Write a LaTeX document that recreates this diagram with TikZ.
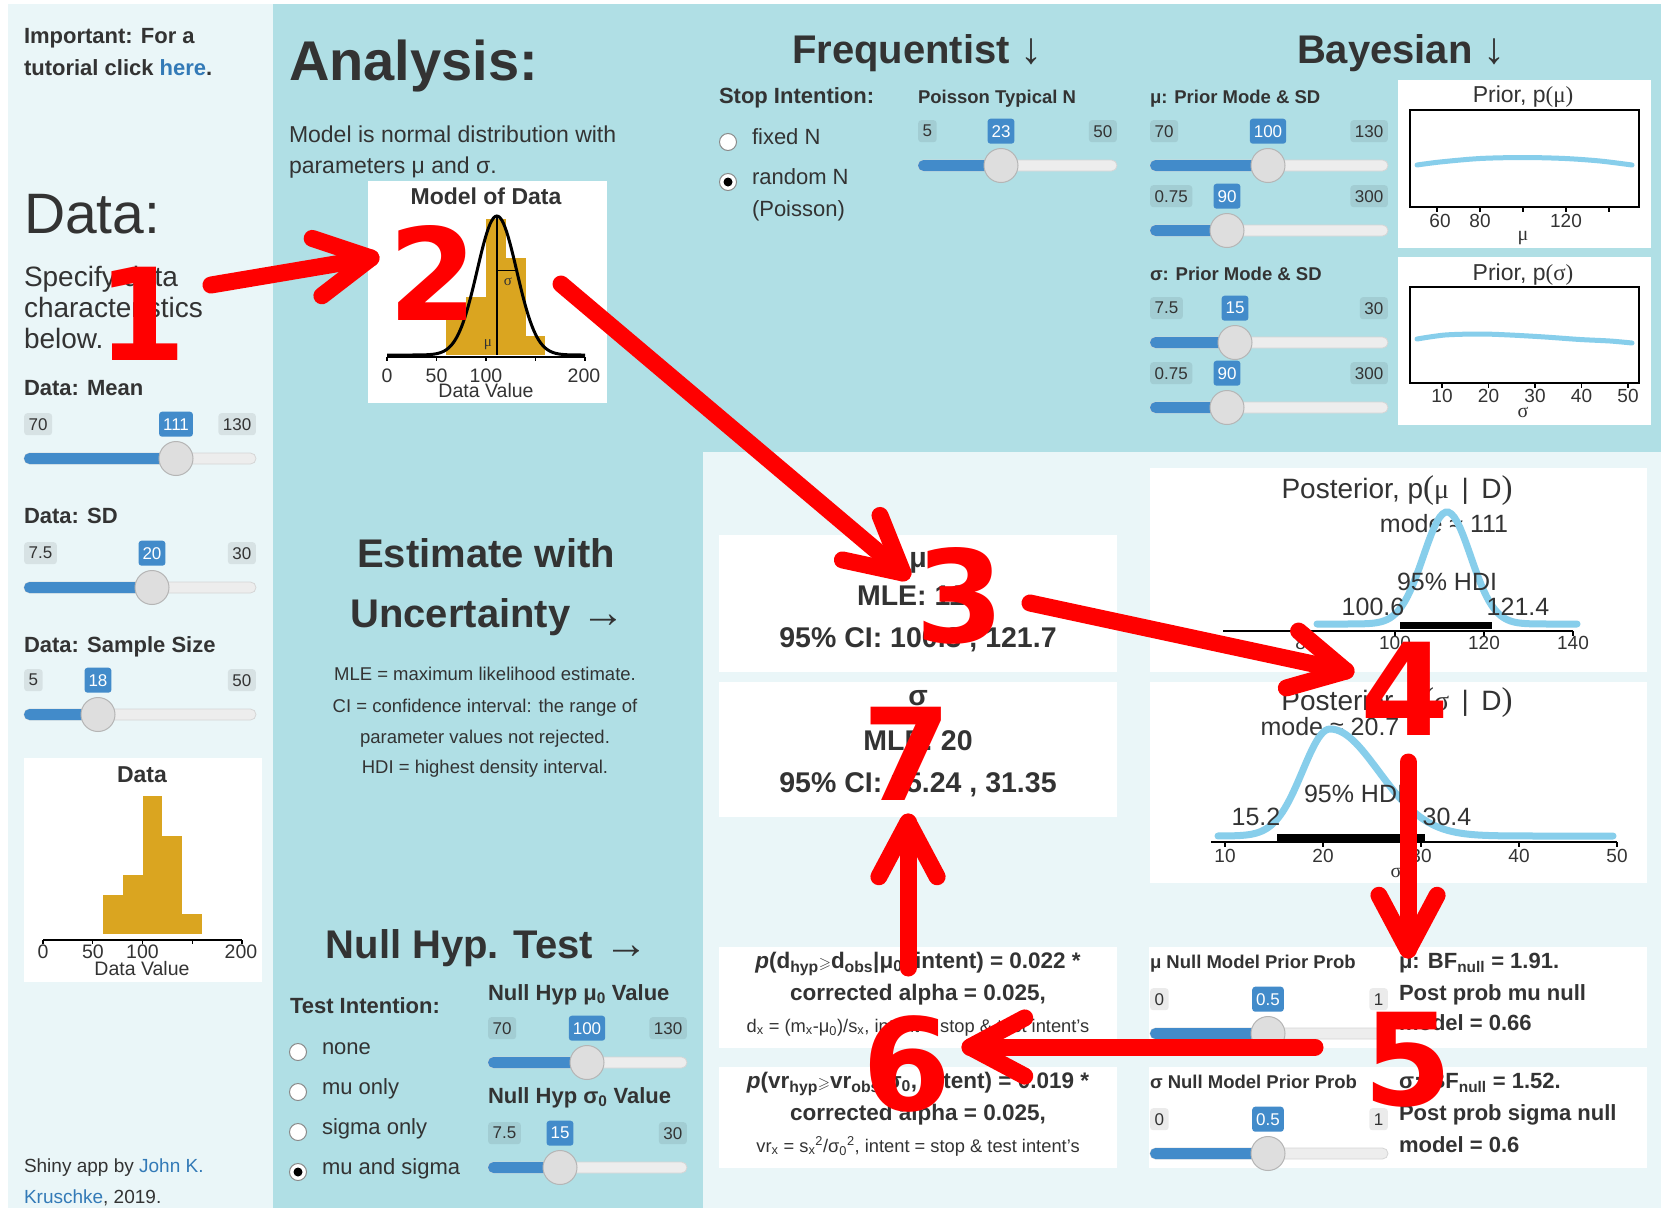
\documentclass[tikz,border=0pt]{standalone}
\usepackage{amssymb}
\usepackage{fontspec}
\setmainfont{Liberation Sans}
\newfontfamily\serifgr{Liberation Serif}
\newfontfamily\numfont{DejaVu Sans}
\usetikzlibrary{calc}

\definecolor{ink}{HTML}{333333}
\definecolor{tealbg}{HTML}{B0DFE5}
\definecolor{lightbg}{HTML}{EAF6F8}
\definecolor{sliderblue}{HTML}{428BCA}
\definecolor{linkblue}{HTML}{337AB7}
\definecolor{histgold}{HTML}{DAA520}
\definecolor{curveblue}{HTML}{87CEEB}
\definecolor{trackc}{HTML}{EDEDED}
\definecolor{trackline}{HTML}{D6D6D6}
\definecolor{knobc}{HTML}{DEDEDE}
\definecolor{knobline}{HTML}{B5B5B5}
\definecolor{radioline}{HTML}{8A8A8A}
\definecolor{markred}{HTML}{FF0000}

\newcommand\fsz[1]{\fontsize{#1}{#1}\selectfont}

\tikzset{
  t/.style={inner sep=0pt, outer sep=0pt, text=ink},
  tw/.style={t, anchor=base west},
  tc/.style={t, anchor=base},
  minlab/.style={fill=black, fill opacity=0.08, text opacity=1, text=ink,
    rounded corners=3pt, inner xsep=4.5pt, inner ysep=0pt, minimum height=22pt,
    font=\fsz{17}},
  vallab/.style={fill=sliderblue, text=white, rounded corners=3pt,
    inner xsep=4pt, inner ysep=0pt, minimum height=25pt, font=\fsz{17}},
  knob/.style={circle, fill=knobc, draw=knobline, line width=1pt,
    minimum size=34pt, inner sep=0pt},
  radio/.style={circle, fill=white, draw=radioline, line width=1pt,
    minimum size=17pt, inner sep=0pt},
  redline/.style={draw=markred, line width=17pt, line cap=round, line join=round},
  num/.style={inner sep=0pt, anchor=base, text=markred, font=\numfont\fsz{128}\bfseries},
  axisln/.style={line width=1.5pt, black},
  tick/.style={line width=1.2pt, black},
}

% slider widget: id, left x, right x, label top y, knob x, min, value, max
\newcommand\uislider[8]{%
  \node[minlab, anchor=north west] (#1-min) at (#2,#4) {#6};
  \node[minlab, anchor=north east] (#1-max) at (#3,#4) {#8};
  \filldraw[fill=trackc, draw=trackline, line width=0.8pt, rounded corners=5.5pt]
     (#2,#4+40) rectangle (#3,#4+51);
  \fill[sliderblue, rounded corners=5.5pt] (#2,#4+40) rectangle (#5,#4+51);
  \node[vallab, anchor=north] (#1-val) at (#5,#4-1.5) {#7};
  \node[knob] (#1-knob) at (#5,#4+45.5) {};
}

% radio button: id, x, y, selected (1) or not (0)
\newcommand\uiradio[4]{%
  \node[radio] (#1) at (#2,#3) {};
  \ifnum#4=1 \fill[black] (#1.center) circle (4.5pt); \fi
}

% red call-out arrow with an open barbed head
\newcommand\redarrow[2]{%
  \draw[redline] (#1) -- (#2);
  \draw[redline] ($(#2)!62pt!28:(#1)$) -- (#2) -- ($(#2)!62pt!-28:(#1)$);
}

% plot-style "p(x | D)" with large serif parentheses
\newcommand\pbig[1]{p{\serifgr\fsz{32}(}\,{\serifgr #1}#1}

\begin{document}
\begin{tikzpicture}[x=1pt,y=-1pt]
\useasboundingbox (0,0) rectangle (1661,1208);

% ---------- page backgrounds ----------
\fill[white] (0,0) rectangle (1661,1208);
\fill[lightbg] (8,4) rectangle (273,1208);
\fill[tealbg] (273,4) rectangle (1661,1208);
\fill[lightbg] (703,452) rectangle (1661,1208);

% white output panels
\foreach \a/\b/\c/\d in {368/181/607/403, 24/758/262/982, 1398/80/1651/248,
    1398/257/1651/425, 719/535/1117/672, 719/682/1117/817, 1150/468/1647/672,
    1150/682/1647/883, 719/947/1117/1048, 719/1067/1117/1168,
    1149/947/1647/1048, 1149/1067/1647/1168}
  \fill[white] (\a,\b) rectangle (\c,\d);

% ---------- sidebar ----------
\node[tw, font=\fsz{22}\bfseries] (imp1) at (24,43) {Important: For a};
\node[tw, font=\fsz{22}\bfseries] (imp2) at (24,75) {tutorial click \textcolor{linkblue}{here}.};
\node[tw, font=\fsz{57}] (datahd) at (24,233) {Data:};
\node[tw, font=\fsz{28}] (spec1) at (24,286) {Specify data};
\node[tw, font=\fsz{28}] (spec2) at (24,317) {characteristics};
\node[tw, font=\fsz{28}] (spec3) at (24,348) {below.};

\node[tw, font=\fsz{22}\bfseries] (lmean) at (24,395) {Data: Mean};
\uislider{smean}{24}{256}{413}{176}{70}{111}{130}
\node[tw, font=\fsz{22}\bfseries] (lsd) at (24,523) {Data: SD};
\uislider{ssd}{24}{256}{542}{152}{7.5}{20}{30}
\node[tw, font=\fsz{22}\bfseries] (lss) at (24,652) {Data: Sample Size};
\uislider{sn}{24}{256}{669}{98}{5}{18}{50}

% data histogram
\node[tc, font=\fsz{23}\bfseries] (dtitle) at (142,782) {Data};
\foreach \l/\h in {60/2,80/3,100/7,120/5,140/1}
  \fill[histgold] ({43+0.995*\l},934) rectangle ({43+0.995*(\l+20)},{934-19.7*\h});
\draw[axisln] (43,940) -- (242,940);
\foreach \v in {0,50,100,150,200} \draw[tick] ({43+0.995*\v},940) -- ++(0,4);
\node[tc, font=\fsz{19.5}] (dx0) at (43,958) {0};
\node[tc, font=\fsz{19.5}] (dx50) at (93,958) {50};
\node[tc, font=\fsz{19.5}] (dx100) at (142.5,958) {100};
\node[tc, font=\fsz{19.5}] (dx200) at (241,958) {200};
\node[tc, font=\fsz{19.5}] (dxlab) at (142,975) {Data Value};

\node[tw, font=\fsz{19}] (credit1) at (24,1172) {Shiny app by \textcolor{linkblue}{John K.}};
\node[tw, font=\fsz{19}] (credit2) at (24,1203) {\textcolor{linkblue}{Kruschke}, 2019.};

% ---------- analysis column ----------
\node[tw, font=\fsz{56}\bfseries] (anhd) at (289,80) {Analysis:};
\node[tw, font=\fsz{23}] (model1) at (289,142) {Model is normal distribution with};
\node[tw, font=\fsz{23}] (model2) at (289,173) {parameters μ and σ.};

% model of data plot
\node[tc, font=\fsz{23}\bfseries] (mtitle) at (486,204) {Model of Data};
\foreach \l/\h in {60/2,80/3,100/7,120/5,140/1}
  \fill[histgold] ({387+0.99*\l},355) rectangle ({387+0.99*(\l+20)},{355-19.4*\h});
\draw[line width=3pt] plot[domain=0:200, samples=120]
  ({387+0.99*\x},{355-139*exp(-0.5*((\x-111)/20)*((\x-111)/20))});
\draw[line width=1.3pt] (497,216) -- (497,355);
\draw[line width=1.3pt] (497,270.7) -- (517,270.7);
\node[t, font=\serifgr\fsz{15}] (msig) at (508,282) {σ};
\node[t, font=\serifgr\fsz{15}] (mmu) at (488,345) {μ};
\draw[axisln] (387,357) -- (585,357);
\foreach \v in {0,50,100,150,200} \draw[tick] ({387+0.99*\v},357) -- ++(0,4);
\node[tc, font=\fsz{19.5}] (mx0) at (387,382) {0};
\node[tc, font=\fsz{19.5}] (mx50) at (436.5,382) {50};
\node[tc, font=\fsz{19.5}] (mx100) at (486,382) {100};
\node[tc, font=\fsz{19.5}] (mx200) at (584,382) {200};
\node[tc, font=\fsz{19.5}] (mxlab) at (486,397) {Data Value};

\node[tc, font=\fsz{40}\bfseries] (est1) at (486,567) {Estimate with};
\node[tc, font=\fsz{40}\bfseries] (est2) at (488,627) {Uncertainty {\mdseries\serifgr\fsz{44}→}};
\node[tc, font=\fsz{18.5}] (gl1) at (485,680) {MLE = maximum likelihood estimate.};
\node[tc, font=\fsz{18.5}] (gl2) at (485,712) {CI = confidence interval: the range of};
\node[tc, font=\fsz{18.5}] (gl3) at (485,743) {parameter values not rejected.};
\node[tc, font=\fsz{18.5}] (gl4) at (485,773) {HDI = highest density interval.};

\node[tc, font=\fsz{40}\bfseries] (nht) at (487,958) {Null Hyp. Test {\mdseries\serifgr\fsz{44}→}};
\node[tw, font=\fsz{22}\bfseries] (tint) at (290,1013) {Test Intention:};
\uiradio{rnone}{298}{1052}{0}
\uiradio{rmu}{298}{1092}{0}
\uiradio{rsig}{298}{1132}{0}
\uiradio{rboth}{298}{1172}{1}
\node[tw, font=\fsz{22}] (tnone) at (322,1054) {none};
\node[tw, font=\fsz{22}] (tmu) at (322,1094) {mu only};
\node[tw, font=\fsz{22}] (tsig) at (322,1134) {sigma only};
\node[tw, font=\fsz{22}] (tboth) at (322,1174) {mu and sigma};
\node[tw, font=\fsz{22}\bfseries] (lmu0) at (488,1000) {Null Hyp μ\textsubscript{0} Value};
\uislider{smu0}{488}{687}{1017}{587}{70}{100}{130}
\node[tw, font=\fsz{22}\bfseries] (lsig0) at (488,1103) {Null Hyp σ\textsubscript{0} Value};
\uislider{ssig0}{488}{687}{1122}{560}{7.5}{15}{30}

% ---------- frequentist column ----------
\node[tw, font=\fsz{40}\bfseries] (freq) at (792,63) {Frequentist {\mdseries\serifgr\fsz{44}↓}};
\node[tw, font=\fsz{22}\bfseries] (stop) at (719,103) {Stop Intention:};
\uiradio{rfixed}{728}{142}{0}
\uiradio{rrand}{728}{182}{1}
\node[tw, font=\fsz{22}] (tfixed) at (752,144) {fixed N};
\node[tw, font=\fsz{22}] (trand) at (752,184) {random N};
\node[tw, font=\fsz{22}] (tpois) at (752,216) {(Poisson)};
\node[tw, font=\fsz{18.5}\bfseries] (lpois) at (918,103) {Poisson Typical N};
\uislider{spois}{918}{1117}{120}{1001}{5}{23}{50}

% estimate boxes
\node[tc, font=\fsz{28.5}\bfseries] (emu) at (918,567) {μ};
\node[tc, font=\fsz{28.5}\bfseries] (emumle) at (918,605) {MLE: 111};
\node[tc, font=\fsz{28.5}\bfseries] (emuci) at (918,647) {95\% CI: 100.3 , 121.7};
\node[tc, font=\fsz{28.5}\bfseries] (esig) at (918,705) {σ};
\node[tc, font=\fsz{28.5}\bfseries] (esigmle) at (918,750) {MLE: 20};
\node[tc, font=\fsz{28.5}\bfseries] (esigci) at (918,792) {95\% CI: 15.24 , 31.35};

% null hypothesis test boxes
\node[tc, font=\fsz{22.5}\bfseries] (p1a) at (918,968)
  {\textit{p}(d\textsubscript{hyp}$\scriptstyle\geqslant$d\textsubscript{obs}|μ\textsubscript{0}, intent) = 0.022 *};
\node[tc, font=\fsz{22.5}\bfseries] (p1b) at (918,1000) {corrected alpha = 0.025,};
\node[tc, font=\fsz{18.3}] (p1c) at (918,1032)
  {d\textsubscript{x} = (m\textsubscript{x}-μ\textsubscript{0})/s\textsubscript{x}, intent = stop \& test intent's};
\node[tc, font=\fsz{22.5}\bfseries] (p2a) at (918,1088)
  {\textit{p}(vr\textsubscript{hyp}$\scriptstyle\geqslant$vr\textsubscript{obs}|σ\textsubscript{0}, intent) = 0.019 *};
\node[tc, font=\fsz{22.5}\bfseries] (p2b) at (918,1120) {corrected alpha = 0.025,};
\node[tc, font=\fsz{18.3}] (p2c) at (918,1152)
  {vr\textsubscript{x} = s\textsubscript{x}\textsuperscript{2}/σ\textsubscript{0}\textsuperscript{2}, intent = stop \& test intent's};

% ---------- bayesian column ----------
\node[tw, font=\fsz{40}\bfseries] (bayes) at (1297,63) {Bayesian {\mdseries\serifgr\fsz{44}↓}};
\node[tw, font=\fsz{18.5}\bfseries] (lpmu) at (1150,103) {μ: Prior Mode \& SD};
\uislider{spmu1}{1150}{1388}{120}{1268}{70}{100}{130}
\uislider{spmu2}{1150}{1388}{185}{1227}{0.75}{90}{300}
\node[tw, font=\fsz{18.5}\bfseries] (lpsig) at (1150,280) {σ: Prior Mode \& SD};
\uislider{spsig1}{1150}{1388}{297}{1235}{7.5}{15}{30}
\uislider{spsig2}{1150}{1388}{362}{1227}{0.75}{90}{300}

% prior on mu
\node[tc, font=\fsz{23}] (pmut) at (1523,102) {Prior, p{\serifgr(μ)}};
\draw[line width=1.5pt] (1410,110) rectangle (1639,207);
\draw[curveblue, line width=5pt, line cap=round] plot[smooth] coordinates
  {(1417,165) (1440,162) (1480,158.5) (1524,157.5) (1565,158.5) (1600,161) (1632,165)};
\foreach \v in {60,80,100,120,140} \draw[tick] ({1437+2.15*(\v-60)},207) -- ++(0,5);
\node[tc, font=\fsz{19}] (pmu60) at (1440,227) {60};
\node[tc, font=\fsz{19}] (pmu80) at (1480,227) {80};
\node[tc, font=\fsz{19}] (pmu120) at (1566,227) {120};
\node[tc, font=\serifgr\fsz{20}] (pmux) at (1523,240) {μ};

% prior on sigma
\node[tc, font=\fsz{23}] (psigt) at (1523,280) {Prior, p{\serifgr(σ)}};
\draw[line width=1.5pt] (1410,287) rectangle (1639,383);
\draw[curveblue, line width=5pt, line cap=round] plot[smooth] coordinates
  {(1417,339) (1445,335) (1480,334) (1510,335) (1545,337) (1580,339.5) (1610,341) (1632,343)};
\foreach \v in {10,20,30,40,50} \draw[tick] ({1442+4.65*(\v-10)},383) -- ++(0,5);
\foreach \v in {10,20,30,40,50}
  \node[tc, font=\fsz{19}] (psx\v) at ({1442+4.65*(\v-10)},402) {\v};
\node[tc, font=\serifgr\fsz{20}] (psigx) at (1523,417) {σ};

% posterior on mu
\node[tc, font=\fsz{28}] (postmut) at (1397,498)
  {Posterior, p{\serifgr\fsz{33}(}{\serifgr μ}\ \,|\ \,D{\serifgr\fsz{33})}};
\node[tc, font=\fsz{25}] (postmumode) at (1444,532) {mode ≈ 111};
\draw[curveblue, line width=7pt, line cap=round] plot[domain=1317:1577, samples=90]
  (\x,{624-112*exp(-0.5*((\x-1447)/23.6)*((\x-1447)/23.6))});
\draw[line width=7pt] (1400,625) -- (1492,625);
\draw[axisln] (1223,631) -- (1573,631);
\foreach \xx in {1306,1395,1484,1573} \draw[tick] (\xx,631) -- ++(0,5);
\node[tc, font=\fsz{19}] (pm80) at (1306,649) {80};
\node[tc, font=\fsz{19}] (pm100) at (1395,649) {100};
\node[tc, font=\fsz{19}] (pm120) at (1484,649) {120};
\node[tc, font=\fsz{19}] (pm140) at (1573,649) {140};
\node[tc, font=\serifgr\fsz{20}] (pmx) at (1398,667) {μ};
\node[tc, font=\fsz{25}] (pmhdi) at (1447,590) {95\% HDI};
\node[tc, font=\fsz{25}] (pmlo) at (1373,615) {100.6};
\node[tc, font=\fsz{25}] (pmhi) at (1518,615) {121.4};

% posterior on sigma
\node[tc, font=\fsz{28}] (postsigt) at (1397,710)
  {Posterior, p{\serifgr\fsz{33}(}{\serifgr σ}\ \,|\ \,D{\serifgr\fsz{33})}};
\node[tc, font=\fsz{25}] (postsigmode) at (1330,735) {mode ≈ 20.7};
\draw[curveblue, line width=7pt, line cap=round] plot[domain=1218:1330, samples=50]
  (\x,{836-107*exp(-0.5*((\x-1330)/27.5)*((\x-1330)/27.5))})
  -- plot[domain=1330:1613, samples=90]
  (\x,{836-107*exp(-0.5*((\x-1330)/48.5)*((\x-1330)/48.5))});
\draw[line width=7pt] (1277,837) -- (1425,837);
\draw[axisln] (1211,842) -- (1617,842);
\foreach \v in {10,20,30,40,50} \draw[tick] ({1225+9.8*(\v-10)},842) -- ++(0,5);
\foreach \v in {10,20,30,40,50}
  \node[tc, font=\fsz{19}] (ppx\v) at ({1225+9.8*(\v-10)},862) {\v};
\node[tc, font=\serifgr\fsz{20}] (ppsx) at (1396,877) {σ};
\node[tc, font=\fsz{25}] (pshdi) at (1354,802) {95\% HDI};
\node[tc, font=\fsz{25}] (pslo) at (1256,825) {15.2};
\node[tc, font=\fsz{25}] (pshi) at (1447,825) {30.4};

% null model priors and Bayes factors
\node[tw, font=\fsz{18.5}\bfseries] (lnm) at (1150,968) {μ Null Model Prior Prob};
\uislider{snm}{1150}{1388}{988}{1268}{0}{0.5}{1}
\node[tw, font=\fsz{18.5}\bfseries] (lns) at (1150,1088) {σ Null Model Prior Prob};
\uislider{sns}{1150}{1388}{1108}{1268}{0}{0.5}{1}
\node[tw, font=\fsz{22}\bfseries] (bf1a) at (1399,968) {μ: BF\textsubscript{null} = 1.91.};
\node[tw, font=\fsz{22}\bfseries] (bf1b) at (1399,1000) {Post prob mu null};
\node[tw, font=\fsz{22}\bfseries] (bf1c) at (1399,1030) {model = 0.66};
\node[tw, font=\fsz{22}\bfseries] (bf2a) at (1399,1088) {σ: BF\textsubscript{null} = 1.52.};
\node[tw, font=\fsz{22}\bfseries] (bf2b) at (1399,1120) {Post prob sigma null};
\node[tw, font=\fsz{22}\bfseries] (bf2c) at (1399,1152) {model = 0.6};

% ---------- red step markers ----------
\coordinate (a1s) at (211,285);  \coordinate (a1e) at (371,258);
\coordinate (a2s) at (561,284);  \coordinate (a2e) at (903,573);
\coordinate (a3s) at (1030,603); \coordinate (a3e) at (1346,671);
\coordinate (a4s) at (1408,762); \coordinate (a4e) at (1408,950);
\coordinate (a5s) at (1315,1047);\coordinate (a5e) at (970,1047);
\coordinate (a6s) at (908,968);  \coordinate (a6e) at (908,822);
\redarrow{a1s}{a1e}
\redarrow{a2s}{a2e}
\redarrow{a3s}{a3e}
\redarrow{a4s}{a4e}
\redarrow{a5s}{a5e}
\redarrow{a6s}{a6e}

\node[num] (n1) at (142,360) {1};
\node[num] (n2) at (433,320) {2};
\node[num] (n3) at (960,642) {3};
\node[num] (n4) at (1405,735) {4};
\node[num] (n5) at (1408,1105) {5};
\node[num] (n6) at (907,1110) {6};
\node[num] (n7) at (907,800) {7};
\end{tikzpicture}
\end{document}
